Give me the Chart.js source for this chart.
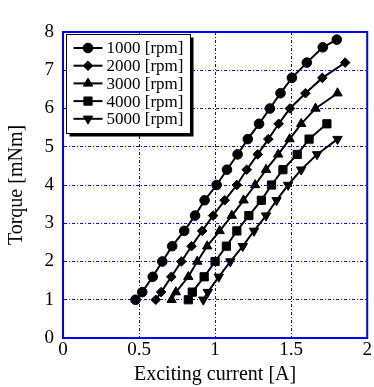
<!DOCTYPE html>
<html>
<head>
<meta charset="utf-8">
<script src="https://cdn.jsdelivr.net/npm/chart.js@4.4.1/dist/chart.umd.min.js"></script>
<style>
html,body{margin:0;padding:0;background:#fff;}
#wrap{width:374px;height:387px;}
</style>
</head>
<body>
<div id="wrap"><canvas id="c" width="374" height="387"></canvas></div>
<script>
// ---- data ----
const seriesLabels = ["1000 [rpm]", "2000 [rpm]", "3000 [rpm]", "4000 [rpm]", "5000 [rpm]"];
const current1000 = [0.477, 0.521, 0.59, 0.653, 0.718, 0.797, 0.868, 0.931, 1.01, 1.078, 1.148, 1.215, 1.289, 1.36, 1.43, 1.505, 1.603, 1.708, 1.80];
const torque1000  = [1.0, 1.2, 1.6, 2.0, 2.4, 2.8, 3.2, 3.6, 4.0, 4.4, 4.8, 5.2, 5.6, 6.0, 6.4, 6.8, 7.2, 7.6, 7.8];
const current2000 = [0.61, 0.645, 0.712, 0.778, 0.845, 0.915, 0.987, 1.063, 1.143, 1.208, 1.28, 1.35, 1.418, 1.492, 1.594, 1.705, 1.855];
const torque2000  = [1.0, 1.2, 1.6, 2.0, 2.4, 2.8, 3.2, 3.6, 4.0, 4.4, 4.8, 5.2, 5.6, 6.0, 6.4, 6.8, 7.2];
const current3000 = [0.714, 0.742, 0.824, 0.883, 0.948, 1.03, 1.11, 1.187, 1.263, 1.335, 1.415, 1.49, 1.566, 1.66, 1.805];
const torque3000  = [1.0, 1.2, 1.6, 2.0, 2.4, 2.8, 3.2, 3.6, 4.0, 4.4, 4.8, 5.2, 5.6, 6.0, 6.4];
const current4000 = [0.824, 0.85, 0.928, 1.0, 1.074, 1.143, 1.222, 1.304, 1.371, 1.446, 1.54, 1.618, 1.735];
const torque4000  = [1.0, 1.2, 1.6, 2.0, 2.4, 2.8, 3.2, 3.6, 4.0, 4.4, 4.8, 5.2, 5.6];
const current5000 = [0.922, 0.952, 1.024, 1.10, 1.182, 1.256, 1.335, 1.404, 1.48, 1.566, 1.67, 1.805];
const torque5000  = [1.0, 1.2, 1.6, 2.0, 2.4, 2.8, 3.2, 3.6, 4.0, 4.4, 4.8, 5.2];
const xTickLabels = ["0", "0.5", "1", "1.5", "2"];
const yTickLabels = ["0", "1", "2", "3", "4", "5", "6", "7", "8"];
const xTitle = "Exciting current [A]";
const yTitle = "Torque [mNm]";

const FONT = "'Liberation Serif', 'Times New Roman', serif";
const BLUE = "#0000ff";

function pts(xs, ys) { return xs.map((x, i) => ({ x: x, y: ys[i] })); }

const markers = [
  { pointStyle: 'circle', radius: 4.8, rotation: 0 },
  { pointStyle: 'rectRot', radius: 4.8, rotation: 0 },
  { pointStyle: 'triangle', radius: 5.4, rotation: 0 },
  { pointStyle: 'rect', radius: 5.8, rotation: 0 },
  { pointStyle: 'triangle', radius: 5.4, rotation: 180 }
];
const allX = [current1000, current2000, current3000, current4000, current5000];
const allY = [torque1000, torque2000, torque3000, torque4000, torque5000];

const datasets = seriesLabels.map((lab, i) => ({
  label: lab,
  data: pts(allX[i], allY[i]),
  borderColor: '#000',
  backgroundColor: '#000',
  borderWidth: 2,
  pointStyle: markers[i].pointStyle,
  pointRadius: markers[i].radius,
  pointRotation: markers[i].rotation,
  pointBackgroundColor: '#000',
  pointBorderColor: '#000',
  pointBorderWidth: 1,
  showLine: true,
  tension: 0
}));

// frame (solid blue border) + custom legend box with shadow
const framePlugin = {
  id: 'frame',
  afterDatasetsDraw(chart) {
    const { ctx, chartArea: a } = chart;
    ctx.save();
    ctx.strokeStyle = BLUE;
    ctx.lineWidth = 2;
    ctx.strokeRect(a.left, a.top, a.right - a.left, a.bottom - a.top);
    ctx.restore();
  },
  afterDraw(chart) {
    const { ctx, chartArea: a } = chart;
    const bx = a.left + 3.5, by = a.top + 2.5, bw = 124, bh = 99;
    ctx.save();
    ctx.fillStyle = '#000';
    ctx.fillRect(bx + 3, by + 3, bw, bh);
    ctx.fillStyle = '#fff';
    ctx.fillRect(bx, by, bw, bh);
    ctx.strokeStyle = '#000';
    ctx.lineWidth = 1;
    ctx.strokeRect(bx, by, bw, bh);
    const rowY0 = by + 13.5, rowStep = 17.7;
    ctx.font = "17px " + FONT;
    ctx.textBaseline = 'middle';
    ctx.textAlign = 'left';
    seriesLabels.forEach((lab, i) => {
      const y = rowY0 + i * rowStep;
      ctx.strokeStyle = '#000';
      ctx.lineWidth = 2;
      ctx.beginPath();
      ctx.moveTo(bx + 7, y);
      ctx.lineTo(bx + 36, y);
      ctx.stroke();
      ctx.fillStyle = '#000';
      ctx.strokeStyle = '#000';
      ctx.lineWidth = 1;
      Chart.helpers.drawPoint(ctx, {
        pointStyle: markers[i].pointStyle,
        radius: markers[i].radius,
        rotation: markers[i].rotation,
        borderWidth: 1
      }, bx + 21.5, y);
      ctx.fillStyle = '#000';
      ctx.fillText(lab, bx + 40, y + 1);
    });
    ctx.restore();
  }
};

new Chart(document.getElementById('c'), {
  type: 'scatter',
  data: { datasets: datasets },
  options: {
    responsive: false,
    animation: false,
    devicePixelRatio: 1,
    layout: { padding: { top: 32, right: 4, left: 0, bottom: 0 } },
    plugins: { legend: { display: false }, tooltip: { enabled: false } },
    scales: {
      x: {
        type: 'linear',
        min: 0, max: 2,
        afterBuildTicks(scale) { scale.ticks = xTickLabels.map(v => ({ value: parseFloat(v) })); },
        afterFit(scale) { scale.height = 49; },
        ticks: {
          color: '#000',
          font: { family: FONT, size: 19 },
          padding: 1,
          maxRotation: 0,
          autoSkip: false,
          callback: (v, i) => xTickLabels[i]
        },
        grid: { color: BLUE, lineWidth: 1, drawTicks: false },
        border: { display: true, color: BLUE, width: 2, dash: [3, 2, 1, 2] },
        title: { display: true, text: xTitle, color: '#000', font: { family: FONT, size: 20 }, padding: { top: 0, bottom: 0 } }
      },
      y: {
        type: 'linear',
        min: 0, max: 8,
        afterBuildTicks(scale) { scale.ticks = yTickLabels.map(v => ({ value: parseFloat(v) })); },
        afterFit(scale) { scale.width = 63; },
        ticks: {
          color: '#000',
          font: { family: FONT, size: 19 },
          padding: 9,
          autoSkip: false,
          callback: (v, i) => yTickLabels[i]
        },
        grid: { color: BLUE, lineWidth: 1, drawTicks: false },
        border: { display: true, color: BLUE, width: 2, dash: [3, 2, 1, 2] },
        title: { display: true, text: yTitle, color: '#000', font: { family: FONT, size: 20 }, padding: { top: 5, bottom: 0 } }
      }
    }
  },
  plugins: [framePlugin]
});
</script>
</body>
</html>
